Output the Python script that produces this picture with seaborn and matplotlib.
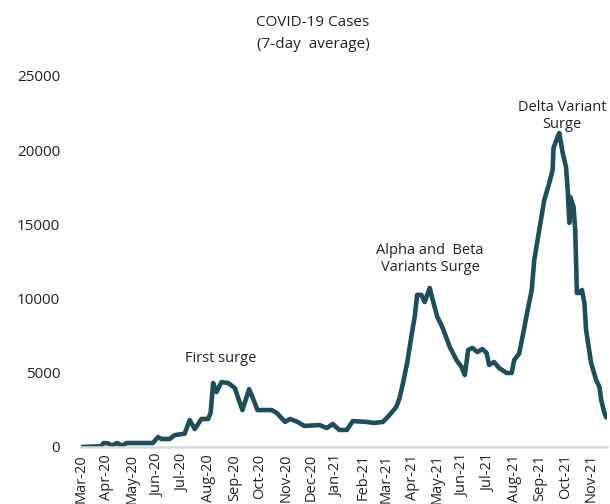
import pandas as pd
import numpy as np
import matplotlib
matplotlib.use("Agg")
from matplotlib import pyplot as plt
import matplotlib.dates as mdates
import seaborn as sns

# days after 2020-03-01 and 7-day average cases
days = [0, 24, 27, 32, 37, 43, 49, 55, 86, 92, 96, 106, 112, 124, 130, 136, 144,
        152, 155, 158, 162, 168, 176, 184, 190, 193, 201, 205, 211, 222, 228, 234,
        244, 250, 259, 267, 285, 294, 301, 309, 318, 325, 341, 351, 361, 369, 377,
        381, 384, 390, 395, 399, 402, 407, 411, 417, 420, 426, 432, 441, 449, 455,
        459, 463, 468, 474, 480, 485, 488, 494, 500, 509, 515, 518, 524, 530, 534,
        539, 542, 548, 554, 560, 564, 565, 570, 572, 576, 580, 582, 584, 585, 589,
        591, 593, 596, 599, 602, 604, 610, 616, 620, 622, 626, 628]
cases = [0, 50, 270, 250, 100, 270, 100, 270, 270, 670, 540, 540, 800, 900, 1820,
         1210, 1890, 1890, 2300, 4310, 3700, 4380, 4310, 3970, 2960, 2490, 3900,
         3370, 2490, 2490, 2490, 2300, 1690, 1890, 1690, 1420, 1480, 1280, 1550,
         1150, 1150, 1750, 1690, 1620, 1690, 2160, 2700, 3300, 4040, 5660, 7420,
         8770, 10250, 10250, 9770, 10720, 10040, 8770, 8090, 6740, 5860, 5390,
         4850, 6540, 6670, 6400, 6600, 6340, 5530, 5730, 5320, 4990, 4990, 5860,
         6300, 8000, 9200, 10580, 12600, 14630, 16650, 17800, 18670, 20150, 20900,
         21160, 19820, 18870, 17320, 15100, 16850, 16180, 14630, 10380, 10380,
         10580, 9700, 7890, 5660, 4520, 4040, 3170, 2290, 2000]

start = pd.Timestamp("2020-03-01")
df = pd.DataFrame({"date": start + pd.to_timedelta(days, unit="D"), "cases": cases})

sns.set_style("white")
plt.rcParams["font.family"] = ["Open Sans", "DejaVu Sans"]

fig = plt.figure(figsize=(6.1, 5.04), dpi=100)
ax = fig.add_axes([81 / 610, 57 / 504, 526 / 610, 371 / 504])

sns.lineplot(data=df, x="date", y="cases", ax=ax, color="#1b4f5c", linewidth=3.3)

ax.set_xlim(start, start + pd.Timedelta(days=629))
ax.set_ylim(0, 25000)
ax.set_yticks([0, 5000, 10000, 15000, 20000, 25000])
ax.xaxis.set_major_locator(mdates.MonthLocator())
ax.xaxis.set_major_formatter(mdates.DateFormatter("%b-%y"))
ax.tick_params(axis="x", rotation=90, labelsize=10.5, length=0, pad=5, colors="#222222")
ax.tick_params(axis="y", labelsize=11, length=0, pad=15, colors="#222222")
for lbl in ax.get_xticklabels():
    lbl.set_ha("center")
ax.set_xlabel("")
ax.set_ylabel("")
for s in ["top", "right", "left"]:
    ax.spines[s].set_visible(False)
ax.spines["bottom"].set_color("#d9d9d9")
ax.spines["bottom"].set_linewidth(1.8)

fig.text(313 / 610, 1 - 22 / 504, "COVID-19 Cases", ha="center", va="center", fontsize=11, color="#222222")
fig.text(313 / 610, 1 - 45 / 504, "(7-day  average)", ha="center", va="center", fontsize=11, color="#222222")

fig.text(221 / 610, 1 - 359 / 504, "First surge", ha="center", va="center", fontsize=10.5, color="#222222")
fig.text(430 / 610, 1 - 259 / 504, "Alpha and  Beta\nVariants Surge", ha="center", va="center",
         fontsize=10.5, color="#222222", linespacing=1.2)
fig.text(562 / 610, 1 - 116 / 504, "Delta Variant\nSurge", ha="center", va="center",
         fontsize=10.5, color="#222222", linespacing=1.2)

fig.savefig("out.png", dpi=100)
